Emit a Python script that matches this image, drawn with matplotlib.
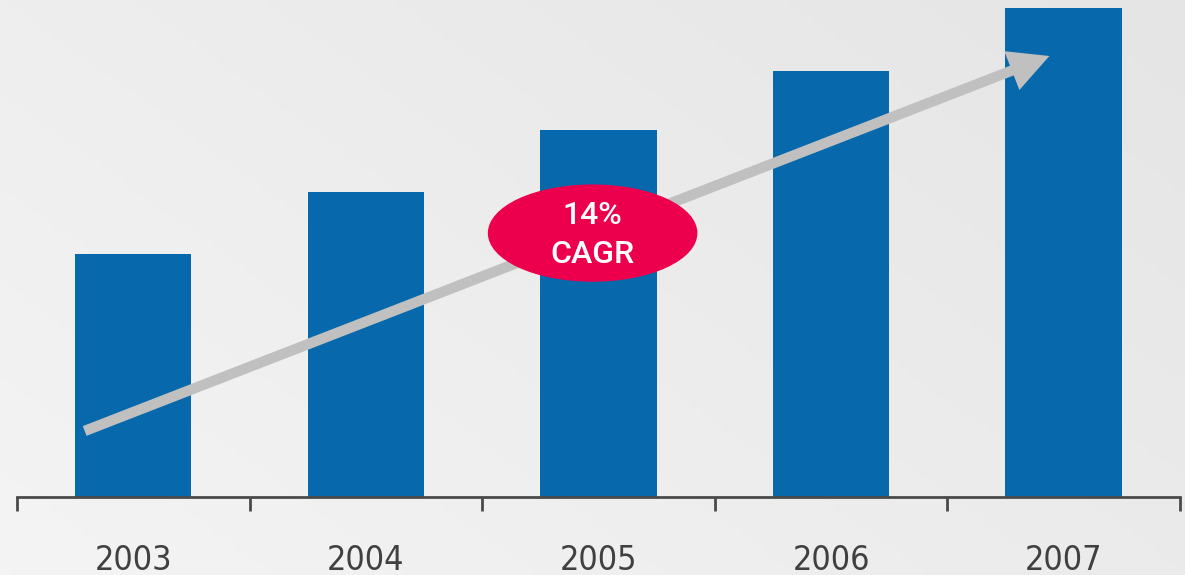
import numpy as np
import matplotlib
matplotlib.use("Agg")
import matplotlib.pyplot as plt
from matplotlib.patches import Ellipse, FancyArrowPatch

# data (arbitrary units, baseline = 0)
years = ["2003", "2004", "2005", "2006", "2007"]
values = [243, 305, 367, 426, 489]
cagr_label = "14%\nCAGR"

bar_color = "#0768AB"
badge_color = "#EC004E"
arrow_color = "#C0C0C0"
axis_color = "#4A4A4A"

fig = plt.figure(figsize=(11.85, 5.75), dpi=100)

# soft gray gradient behind everything
bg = fig.add_axes([0, 0, 1, 1], zorder=0)
gx, gy = np.meshgrid(np.linspace(0, 1, 200), np.linspace(0, 1, 100))
grad = 0.6 * gx + 0.4 * (1 - gy)
bg.imshow(grad, cmap=plt.cm.colors.LinearSegmentedColormap.from_list(
    "bg", ["#F4F4F4", "#E5E5E5"]), aspect="auto", extent=[0, 1, 0, 1],
    origin="upper")
bg.axis("off")

ax = fig.add_axes([0.0143, 0.1357, 0.9814, 0.8643], zorder=1)
ax.patch.set_alpha(0)
x = np.arange(len(years))
ax.bar(x, values, width=0.5, color=bar_color, zorder=2)
ax.set_xlim(-0.5, len(years) - 0.5)
ax.set_ylim(0, 497)

for s in ["top", "right", "left"]:
    ax.spines[s].set_visible(False)
ax.spines["bottom"].set_color(axis_color)
ax.spines["bottom"].set_linewidth(2)
ax.set_yticks([])
ax.set_xticks(np.arange(-0.5, len(years)), minor=False)
ax.set_xticklabels([])
ax.tick_params(axis="x", length=10, width=2, color=axis_color)
for xi, yr in zip(x, years):
    ax.text(xi, -0.127, yr, transform=ax.get_xaxis_transform(),
            ha="center", va="center", fontsize=24.5, color="#404040",
            family="DejaVu Sans", fontstretch="condensed")

# growth arrow
arrow = FancyArrowPatch((-0.22, 65), (3.95, 442),
                        arrowstyle="simple,head_length=29,head_width=30,tail_width=7.5",
                        mutation_scale=1, color=arrow_color, lw=0, zorder=3)
ax.add_patch(arrow)

# CAGR badge (size in axes fraction so it stays an ellipse on screen)
badge = Ellipse((0.495, 0.531), 0.179, 0.193, transform=ax.transAxes,
                color=badge_color, zorder=4)
ax.add_patch(badge)
ax.text(0.495, 0.527, cagr_label, transform=ax.transAxes, ha="center",
        va="center", fontsize=23, color="white", family="Roboto",
        fontweight="medium", linespacing=1.45, zorder=5)

fig.savefig("out.png", dpi=100)
